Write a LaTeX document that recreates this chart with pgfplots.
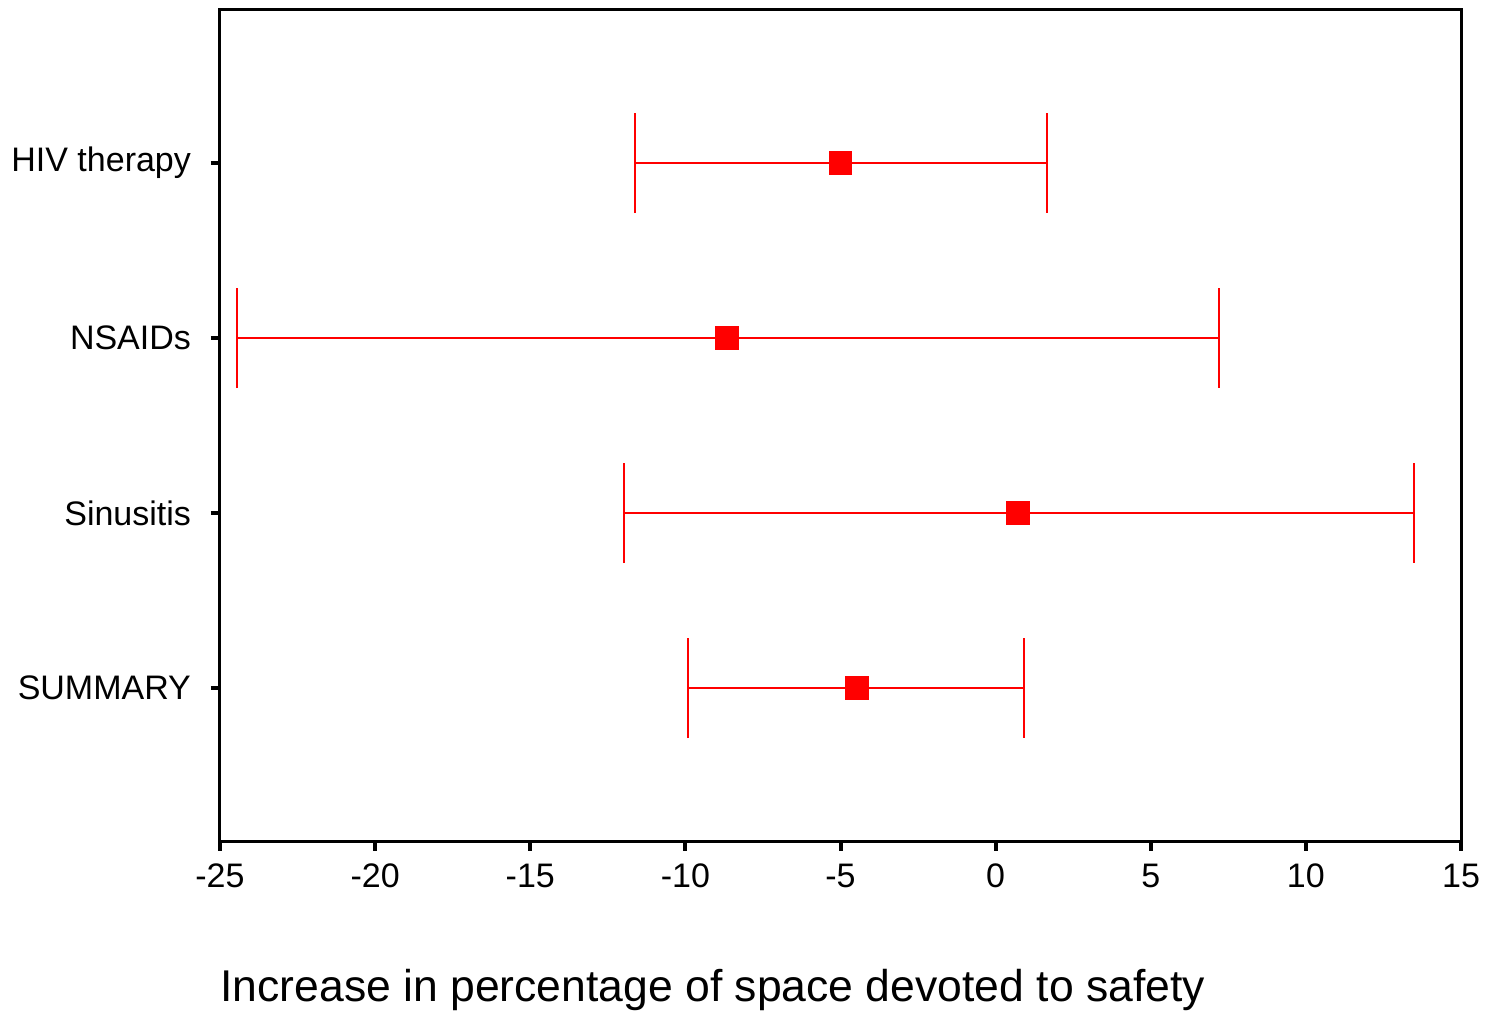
\documentclass[border=0pt]{standalone}
\usepackage{pgfplots}
\usepackage{pgfplotstable}
\pgfplotsset{compat=1.18}
\usepackage{fontspec}
\setmainfont{Liberation Sans}
\pgfplotstableread{
x y ep em
-4.99 4 6.64 6.64
-8.66 3 15.85 15.79
0.72 2 12.76 12.70
-4.47 1 5.38 5.45
}\data
\begin{document}
\begin{tikzpicture}
\begin{axis}[
  scale only axis,
  width=620.5pt, height=416pt,
  xmin=-25, xmax=15, ymin=0.12, ymax=4.875,
  xtick={-25,-20,...,15},
  ytick={1,2,3,4},
  yticklabels={SUMMARY,Sinusitis,NSAIDs,HIV therapy},
  axis line style={line width=1.5pt},
  tick align=outside,
  major tick length=4.5pt,
  tick style={line width=2pt, black},
  xtick pos=bottom, ytick pos=left,
  /pgf/number format/assume math mode=true,
  ticklabel style={font=\fontsize{17}{20}\selectfont},
  xticklabel style={yshift=-3pt},
  yticklabel style={xshift=-6.5pt},
  xlabel={Increase in percentage of space devoted to safety},
  xlabel style={font=\fontsize{22.25}{27}\selectfont, at={(axis description cs:0.397,0)}, anchor=north, yshift=-60pt},
]
\addplot[red, line width=1pt, mark=square*, mark size=5.3pt, draw=none,
  error bars/.cd, x dir=both, x explicit,
  error mark=|,
  error bar style={line width=1pt, red, solid},
  error mark options={red, line width=1pt, mark size=25pt}]
table[x=x, y=y, x error plus=ep, x error minus=em] {\data};
\coordinate (sw) at (rel axis cs:0,0);
\coordinate (ne) at (rel axis cs:1,1);
\end{axis}
\path ([shift={(-110pt,-85.5pt)}]sw) rectangle ([shift={(15pt,5pt)}]ne);
\end{tikzpicture}
\end{document}
